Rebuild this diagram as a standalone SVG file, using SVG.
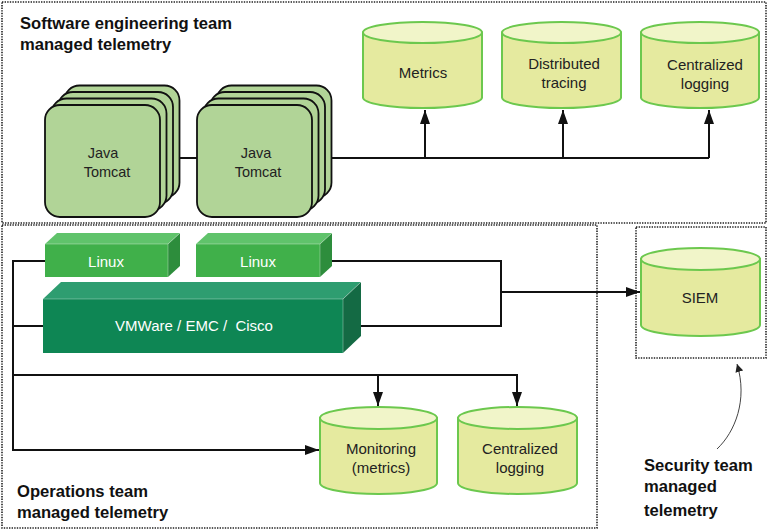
<svg xmlns="http://www.w3.org/2000/svg" width="768" height="530" viewBox="0 0 768 530">
<defs>
<marker id="ah" viewBox="0 0 14 10" refX="14" refY="5" markerWidth="14" markerHeight="10" markerUnits="userSpaceOnUse" orient="auto"><path d="M0,0 L14,5 L0,10 z" fill="#111"/></marker>
<marker id="ah2" viewBox="0 0 10 10" refX="10" refY="5" markerWidth="8" markerHeight="8" markerUnits="userSpaceOnUse" orient="auto"><path d="M0,0 L10,5 L0,10 z" fill="#222"/></marker>
<style>
.zone{fill:none;stroke:#222;stroke-width:1.6;stroke-dasharray:1.4 1.2}
.title{font-family:"Liberation Sans",Arial,sans-serif;font-weight:bold;font-size:16.6px;fill:#111}
.lbl{font-family:"Liberation Sans",Arial,sans-serif;font-size:15px;fill:#222;text-anchor:middle}
.wl{font-family:"Liberation Sans",Arial,sans-serif;font-size:15px;fill:#fff;text-anchor:middle;white-space:pre}
.tc{fill:#b1d497;stroke:#111;stroke-width:1.8}
.cb{fill:#e5ea9f;stroke:#6cc84e;stroke-width:2}
.ct{fill:#f1f5c9;stroke:#6cc84e;stroke-width:2}
.ln{fill:none;stroke:#111;stroke-width:2}
.lf{fill:#40b04a}.lt{fill:#60c36b}.ls{fill:#2d8d3c}
.vf{fill:#0e8654}.vt{fill:#2e9d70}.vs{fill:#146a44}
.edge{stroke:#fff;stroke-width:0.8;stroke-opacity:0.4}
</style>
</defs>

<rect class="zone" x="2" y="2" width="764" height="221"/>
<rect class="zone" x="2" y="225" width="595" height="303"/>
<rect class="zone" x="636" y="227" width="130" height="131"/>

<text class="title" x="20" y="29">Software engineering team</text>
<text class="title" x="20" y="50">managed telemetry</text>
<text class="title" x="17" y="497">Operations team</text>
<text class="title" x="17" y="518">managed telemetry</text>
<text class="title" x="644" y="471">Security team</text>
<text class="title" x="644" y="492">managed</text>
<text class="title" x="644" y="516">telemetry</text>

<g id="connectors">
<path class="ln" d="M178,158 H197"/>
<path class="ln" d="M330,158 H709"/>
<path class="ln" d="M425,158 V110" marker-end="url(#ah)"/>
<path class="ln" d="M563,158 V110" marker-end="url(#ah)"/>
<path class="ln" d="M709,158 V110" marker-end="url(#ah)"/>
<path class="ln" d="M45,261 H13 V450 H319" marker-end="url(#ah)"/>
<path class="ln" d="M43,326 H13"/>
<path class="ln" d="M13,375 H517 V406" marker-end="url(#ah)"/>
<path class="ln" d="M378,375 V406" marker-end="url(#ah)"/>
<path class="ln" d="M320,261 H501 V326 H343"/>
<path class="ln" d="M501,292 H640" marker-end="url(#ah)"/>
<path d="M717,449 C735,432 748,400 737,364" fill="none" stroke="#444" stroke-width="1" marker-end="url(#ah2)"/>
</g>

<g id="tomcat1">
<rect class="tc" x="64.5" y="85.5" width="115" height="112" rx="15"/>
<rect class="tc" x="58" y="92" width="115" height="112" rx="15"/>
<rect class="tc" x="51.5" y="98.5" width="115" height="112" rx="15"/>
<rect class="tc" x="45" y="105" width="115" height="112" rx="15"/>
<text class="lbl" x="103" y="158" style="font-size:14.5px">Java</text>
<text class="lbl" x="107" y="177" style="font-size:14.5px">Tomcat</text>
</g>
<g id="tomcat2">
<rect class="tc" x="216.5" y="85.5" width="115" height="112" rx="15"/>
<rect class="tc" x="210" y="92" width="115" height="112" rx="15"/>
<rect class="tc" x="203.5" y="98.5" width="115" height="112" rx="15"/>
<rect class="tc" x="197" y="105" width="115" height="112" rx="15"/>
<text class="lbl" x="256" y="158" style="font-size:14.5px">Java</text>
<text class="lbl" x="258" y="177" style="font-size:14.5px">Tomcat</text>
</g>

<g id="metrics">
<path class="cb" d="M363,32.5 V97.5 A59.5,10.5 0 0 0 482,97.5 V32.5 Z"/>
<ellipse class="ct" cx="422.5" cy="32.5" rx="59.5" ry="10.5"/>
<text class="lbl" x="423" y="78">Metrics</text>
</g>
<g id="tracing">
<path class="cb" d="M502,32.5 V97.5 A59.5,10.5 0 0 0 621,97.5 V32.5 Z"/>
<ellipse class="ct" cx="561.5" cy="32.5" rx="59.5" ry="10.5"/>
<text class="lbl" x="564" y="69">Distributed</text>
<text class="lbl" x="564" y="88">tracing</text>
</g>
<g id="logging-top">
<path class="cb" d="M641,32.5 V97.5 A59,10.5 0 0 0 759,97.5 V32.5 Z"/>
<ellipse class="ct" cx="700" cy="32.5" rx="59" ry="10.5"/>
<text class="lbl" x="705" y="70">Centralized</text>
<text class="lbl" x="705" y="89">logging</text>
</g>

<g id="linux1">
<polygon class="lt" points="45,244 57,233 180,233 168,244"/>
<polygon class="ls" points="168,244 180,233 180,266 168,277"/>
<rect class="lf" x="45" y="244" width="123" height="33"/>
<path class="edge" d="M45,244 H168 V277 M168,244 L180,233" fill="none"/>
<text class="wl" x="106" y="267">Linux</text>
</g>
<g id="linux2">
<polygon class="lt" points="196,244 208,233 332,233 320,244"/>
<polygon class="ls" points="320,244 332,233 332,266 320,277"/>
<rect class="lf" x="196" y="244" width="124" height="33"/>
<path class="edge" d="M196,244 H320 V277 M320,244 L332,233" fill="none"/>
<text class="wl" x="258" y="267">Linux</text>
</g>
<g id="vmware">
<polygon class="vt" points="43,299 61,282 361,282 343,299"/>
<polygon class="vs" points="343,299 361,282 361,336 343,353"/>
<rect class="vf" x="43" y="299" width="300" height="54"/>
<path class="edge" d="M43,299 H343 V353 M343,299 L361,282" fill="none"/>
<text class="wl" x="194" y="331">VMWare / EMC /  Cisco</text>
</g>

<g id="siem">
<path class="cb" d="M641,259 V325 A59.5,11 0 0 0 760,325 V259 Z"/>
<ellipse class="ct" cx="700.5" cy="259" rx="59.5" ry="11"/>
<text class="lbl" x="700" y="303">SIEM</text>
</g>
<g id="monitoring">
<path class="cb" d="M320,418 V483 A58.5,11 0 0 0 437,483 V418 Z"/>
<ellipse class="ct" cx="378.5" cy="418" rx="58.5" ry="11"/>
<text class="lbl" x="381" y="454">Monitoring</text>
<text class="lbl" x="381" y="473">(metrics)</text>
</g>
<g id="logging-ops">
<path class="cb" d="M458,418 V483 A59.5,11 0 0 0 577,483 V418 Z"/>
<ellipse class="ct" cx="517.5" cy="418" rx="59.5" ry="11"/>
<text class="lbl" x="520" y="454">Centralized</text>
<text class="lbl" x="520" y="473">logging</text>
</g>
</svg>
